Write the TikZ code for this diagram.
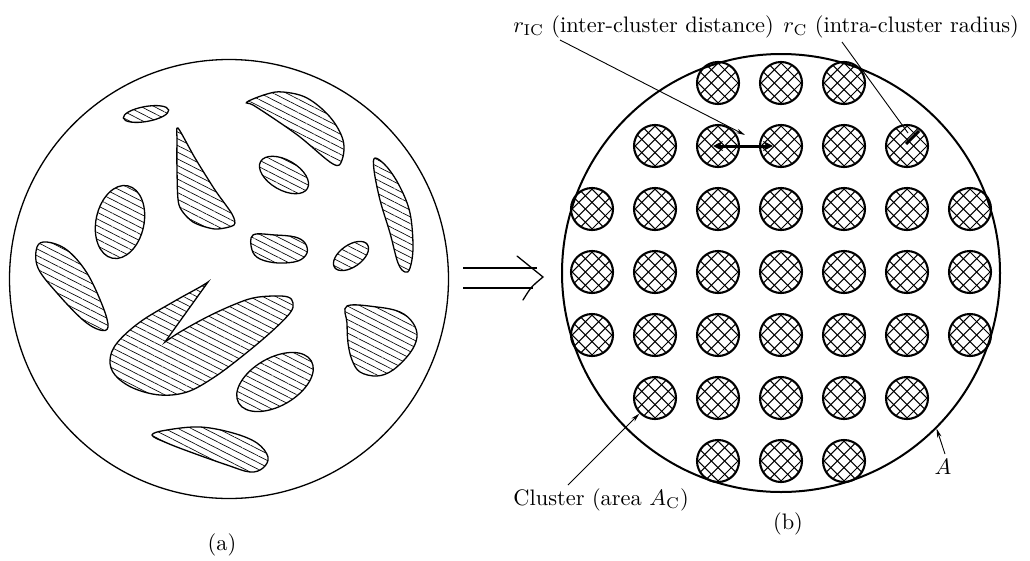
\documentclass[tikz,border=0pt]{standalone}
\usetikzlibrary{arrows.meta,patterns.meta}
\begin{document}
\begin{tikzpicture}[x=1pt,y=-1pt,
  lbl/.style={inner sep=0pt, scale=2.24, font=\fontsize{10}{12}\selectfont},
  blob/.style={line width=1.3pt, pattern={Lines[angle=-27,distance=6pt,line width=0.65pt]}},
  cluster/.style={circle, draw, line width=2.1pt, minimum size=42pt, inner sep=0pt,
    path picture={
      \foreach \k in {-3,...,2}{
        \draw[line width=1pt] ([shift={(\k*13.3pt+6.65pt-30pt,-30pt)}]path picture bounding box.center) -- ++(60pt,60pt);
        \draw[line width=1pt] ([shift={(\k*13.3pt+6.65pt+30pt,-30pt)}]path picture bounding box.center) -- ++(-60pt,60pt);
      }}},
  ann/.style={line width=0.9pt, -{Stealth[length=9pt,width=4.5pt]}},
  bigcirc/.style={circle, draw, inner sep=0pt},
]
\useasboundingbox (0,0) rectangle (1030,560);

% ---------- left picture (a) ----------
\node[bigcirc, line width=1.3pt, minimum size=439pt] (bigA) at (229,279) {};

\draw[blob] (146,114) ellipse [x radius=23, y radius=7.5, rotate=10];
\draw[blob] plot[smooth cycle, tension=0.6] coordinates {(247,102) (267,94) (283,92) (307,98) (330,117) (343,140) (342,160) (333,164) (300,137) (273,118) (253,105)};
\draw[blob] plot[smooth cycle, tension=0.45] coordinates {(178,128) (195,158) (215,190) (232,214) (234,225) (215,229) (193,222) (179,205) (177,170) (177,140)};
\draw[blob] (120,222) ellipse [x radius=24, y radius=37, rotate=-12];
\draw[blob] (284,175) ellipse [x radius=27, y radius=15, rotate=-30];
\draw[blob] plot[smooth cycle, tension=0.6] coordinates {(37,247) (47,242) (67,250) (87,273) (103,307) (108,327) (100,330) (83,320) (57,293) (38,268)};
\draw[blob] plot[smooth cycle, tension=0.6] coordinates {(253,235) (275,235) (295,237) (305,243) (307,253) (298,261) (278,263) (260,259) (252,250)};
\draw[blob] (351,256) ellipse [x radius=20, y radius=11, rotate=35];
\draw[blob] plot[smooth cycle, tension=0.6] coordinates {(375,158) (387,167) (400,187) (410,213) (413,247) (410,268) (405,272) (398,263) (390,233) (380,200) (374,170)};
\draw[blob] plot[smooth, tension=0.6] coordinates {(208,282) (200,287) (173,302) (140,322) (117,343) (110,360) (115,375) (133,388) (160,395) (187,392) (213,378) (240,358) (270,333) (290,313) (293,303) (288,297) (273,296) (253,298) (233,305) (207,317) (180,332) (165,342)} -- (208,282) -- cycle;
\draw[blob] plot[smooth cycle, tension=0.6] coordinates {(347,306) (377,307) (400,312) (413,323) (417,337) (410,353) (393,370) (377,376) (360,372) (352,360) (348,343) (347,323)};
\draw[blob] (275,382) ellipse [x radius=42, y radius=24, rotate=30];
\draw[blob] plot[smooth cycle, tension=0.6] coordinates {(152,435) (167,430) (200,427) (233,433) (257,443) (268,457) (263,468) (250,472) (227,465) (193,453) (167,443)};

\node[lbl] (labA) at (222,545) {(a)};

% ---------- implication arrow ----------
\draw[line width=1.3pt] (463,268) -- (537,268);
\draw[line width=1.3pt] (463,288) -- (533,288);
\draw[line width=1.3pt, line cap=round] (517,256) .. controls (530,267) .. (543,277) .. controls (531,287) .. (523,300);

% ---------- right picture (b) ----------
\node[bigcirc, line width=2pt, minimum size=438pt] (bigB) at (781,273) {};

\foreach \r/\a/\b in {1/3/5,2/2/6,3/1/7,4/1/7,5/1/7,6/2/6,7/3/5}{
  \foreach \c in {\a,...,\b}{
    \node[cluster] (c\r\c) at ({529+63*\c},{20+63*\r}) {};
  }
}

% labels
\node[lbl, anchor=base west] (ric) at (513,32) {$r_{\mathrm{IC}}$ (inter-cluster distance)};
\node[lbl, anchor=base west] (rc) at (783,32) {$r_{\mathrm{C}}$ (intra-cluster radius)};
\node[lbl, anchor=base west] (clus) at (513,505) {Cluster (area $A_{\mathrm{C}}$)};
\node[lbl] (labB) at (788,524) {(b)};
\node[lbl] (labAA) at (943,467) {$A$};

% connectors
\coordinate (ricS) at (560,40);
\coordinate (ricT) at (745,135);
\draw[ann] (ricS) -- (ricT);

\coordinate (dL) at (713,146);
\coordinate (dR) at (773,146);
\draw[line width=3pt, {Stealth[length=10pt,width=10pt]}-{Stealth[length=10pt,width=10pt]}] (dL) -- (dR);

\coordinate (rcS) at (842,42);
\coordinate (rcT) at (908,133);
\draw[line width=0.9pt] (rcS) -- (rcT);
\coordinate (radA) at (906,144);
\coordinate (radB) at (919,131);
\draw[line width=3pt] (radA) -- (radB);

\coordinate (clS) at (568,485);
\draw[ann] (clS) -- (c62.225);

\coordinate (aS) at (945,454);
\draw[ann] (aS) -- (bigB.-45);
\end{tikzpicture}
\end{document}
